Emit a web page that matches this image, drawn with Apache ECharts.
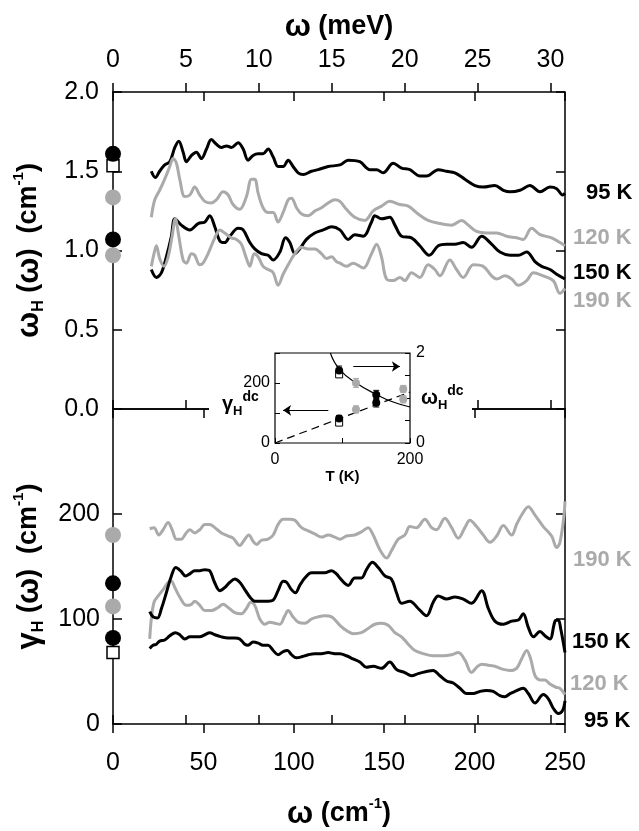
<!DOCTYPE html>
<html>
<head>
<meta charset="utf-8">
<script src="https://cdn.jsdelivr.net/npm/echarts@6/dist/echarts.min.js"></script>
<style>
  html, body { margin: 0; padding: 0; background: #fff; }
  #chart { width: 639px; height: 831px; }
</style>
</head>
<body>
<div id="chart"></div>
<script>
// omega_H(omega) in cm^-1, pairs of [omega (cm^-1), value]
var omega95 = [[21.2,1.50],[23.4,1.46],[25.8,1.50],[28.6,1.54],[31.4,1.56],[34.2,1.65],[36.4,1.69],[38.8,1.62],[40.6,1.56],[43.4,1.60],[46.1,1.62],[48.9,1.58],[51.7,1.64],[54.4,1.70],[57.2,1.67],[60.0,1.65],[62.8,1.66],[65.5,1.65],[69.2,1.68],[72.0,1.64],[74.7,1.57],[77.5,1.60],[80.3,1.61],[83.0,1.61],[85.8,1.64],[88.6,1.59],[91.3,1.53],[94.1,1.53],[96.9,1.57],[99.6,1.53],[102.4,1.49],[105.2,1.48],[109.8,1.50],[113.5,1.51],[119.0,1.53],[125.5,1.54],[130.1,1.57],[136.5,1.56],[142.1,1.51],[145.8,1.51],[149.4,1.49],[155.0,1.55],[159.6,1.52],[164.2,1.51],[169.7,1.47],[173.4,1.47],[179.9,1.51],[184.5,1.50],[189.1,1.49],[194.6,1.45],[200.2,1.41],[204.8,1.40],[211.2,1.41],[215.9,1.38],[219.6,1.37],[225.1,1.38],[230.6,1.41],[236.2,1.37],[241.7,1.40],[245.4,1.39],[248.7,1.35],[250,1.36]];
var omega120 = [[21.2,1.21],[23.1,1.32],[25.8,1.38],[28.6,1.45],[31.4,1.53],[33.2,1.58],[35.1,1.55],[36.9,1.45],[39.7,1.34],[42.5,1.35],[45.2,1.40],[48.0,1.35],[50.8,1.31],[54.4,1.30],[57.2,1.32],[60.9,1.37],[63.7,1.35],[66.4,1.29],[70.1,1.26],[73.8,1.34],[76.6,1.45],[78.4,1.45],[80.3,1.36],[83.0,1.27],[85.8,1.24],[88.6,1.24],[91.3,1.18],[94.1,1.24],[96.9,1.32],[98.7,1.33],[101.5,1.27],[104.3,1.23],[108.0,1.22],[111.7,1.25],[115.3,1.27],[119.0,1.30],[122.7,1.32],[125.5,1.31],[129.1,1.26],[133.7,1.21],[139.3,1.19],[143.9,1.25],[148.5,1.28],[153.1,1.31],[158.7,1.29],[163.3,1.28],[168.8,1.23],[174.3,1.19],[180.8,1.17],[187.3,1.16],[192.8,1.19],[196.5,1.16],[201.1,1.12],[206.6,1.11],[212.2,1.11],[217.7,1.09],[223.2,1.08],[226.9,1.07],[231.5,1.14],[236.2,1.10],[242.6,1.08],[247.2,1.05],[250,1.03]];
var omega150 = [[21.2,0.88],[24.0,0.83],[26.8,0.86],[29.5,0.96],[32.3,1.09],[34.2,1.20],[37.8,1.16],[42.5,1.13],[47.1,1.17],[50.8,1.18],[53.5,1.22],[56.3,1.15],[59.1,1.06],[61.8,1.05],[64.6,1.09],[69.2,1.14],[72.0,1.13],[75.7,1.05],[78.4,1.01],[82.1,0.98],[85.8,0.97],[88.6,0.94],[92.3,0.99],[95.4,1.08],[97.8,1.05],[100.6,0.98],[103.3,1.01],[107.0,1.07],[111.6,1.11],[116.3,1.13],[120.9,1.15],[125.5,1.13],[130.1,1.07],[133.7,1.10],[138.4,1.09],[143.0,1.18],[144.8,1.22],[148.5,1.20],[153.1,1.21],[155.9,1.16],[159.6,1.09],[165.1,1.08],[169.7,1.03],[174.9,0.97],[179.9,1.03],[184.5,1.04],[189.1,1.04],[193.7,1.05],[198.3,1.02],[203.9,1.09],[209.4,1.04],[214.0,0.99],[219.6,0.97],[224.2,0.97],[228.8,0.99],[233.4,0.93],[237.1,0.90],[241.7,0.88],[245.4,0.85],[250,0.82]];
var omega190 = [[21.2,0.90],[22.7,0.98],[24.0,1.03],[25.8,0.95],[28.2,0.90],[30.5,0.96],[32.7,1.09],[34.5,1.20],[36.4,1.09],[38.8,0.94],[40.6,0.92],[43.4,0.98],[45.2,0.97],[48.0,0.91],[49.8,0.92],[52.6,0.98],[56.3,1.08],[59.1,1.13],[61.8,1.11],[65.5,1.08],[68.3,1.07],[71.0,1.04],[73.8,0.95],[75.7,0.90],[78.1,0.98],[80.3,0.96],[83.0,0.90],[85.8,0.88],[88.6,0.86],[91.3,0.78],[94.1,0.85],[96.9,0.91],[100.6,0.98],[104.3,1.02],[108.0,1.01],[111.7,1.01],[115.3,0.98],[118.1,0.95],[120.9,0.96],[123.6,0.93],[125.5,0.92],[129.1,0.90],[132.8,0.92],[138.4,0.89],[143.0,0.98],[145.8,1.04],[148.5,0.96],[151.3,0.82],[155.0,0.81],[158.7,0.83],[161.4,0.81],[165.1,0.86],[169.7,0.83],[174.3,0.91],[178.0,0.88],[180.8,0.84],[186.3,0.94],[190.0,0.88],[193.7,0.83],[199.3,0.91],[204.8,0.90],[209.4,0.84],[212.2,0.82],[216.8,0.84],[220.5,0.82],[224.2,0.78],[228.8,0.81],[232.5,0.86],[238.0,0.84],[243.5,0.81],[247.2,0.73],[250,0.76]];

// gamma_H(omega) in cm^-1
var gamma95 = [[20.3,72],[22.2,75],[24.0,76],[25.8,79],[28.6,80],[31.4,84],[34.5,87],[36.9,85],[39.7,81],[42.5,83],[45.2,83],[48.0,83],[50.8,85],[53.5,87],[56.3,85],[60.0,83],[63.7,82],[67.4,82],[70.1,81],[72.9,76],[74.7,75],[77.5,78],[80.3,77],[83.0,75],[85.8,75],[88.6,70],[91.3,66],[94.1,69],[96.5,70],[98.7,66],[101.5,63],[104.3,64],[108.0,66],[111.6,67],[115.3,67],[119.0,68],[122.7,67],[125.5,67],[129.1,65],[132.8,62],[136.5,59],[140.2,54],[143.9,55],[148.5,53],[153.1,59],[156.8,52],[161.4,49],[165.1,46],[168.8,48],[173.4,50],[177.1,51],[180.8,46],[184.5,41],[188.2,39],[191.9,34],[195.6,29],[199.3,29],[202.9,31],[206.6,32],[210.3,31],[214.0,27],[216.8,26],[219.6,29],[222.3,31],[226.9,34],[229.7,29],[233.4,20],[238.0,28],[240.8,24],[243.5,15],[246.3,10],[248.7,13],[250,22]];
var gamma120 = [[20.3,81],[21.2,100],[22.7,116],[25.0,122],[27.7,128],[30.5,135],[32.3,136],[34.2,130],[36.9,121],[40.6,113],[43.4,114],[45.2,117],[48.0,113],[50.8,108],[54.4,108],[58.1,111],[60.9,114],[63.7,111],[67.4,106],[71.0,105],[73.8,110],[76.2,116],[78.4,113],[81.2,100],[84.0,95],[86.7,97],[89.5,96],[92.3,95],[95.0,103],[96.9,108],[99.6,102],[102.4,97],[106.1,96],[109.8,100],[113.5,102],[117.2,103],[120.9,102],[125.5,94],[129.1,89],[132.8,86],[137.4,87],[141.1,91],[144.8,95],[148.5,96],[152.2,94],[155.9,87],[159.6,83],[163.3,76],[167.0,70],[171.6,67],[177.1,65],[182.6,65],[187.3,66],[191.0,68],[194.6,61],[198.3,49],[201.1,54],[203.9,57],[207.6,56],[211.2,55],[215.9,52],[219.6,51],[223.2,53],[226.0,62],[228.8,70],[231.0,62],[233.4,46],[236.2,42],[238.9,42],[241.7,38],[245.0,35],[247.2,34],[250,28]];
var gamma150 = [[20.3,107],[22.2,102],[24.6,101],[26.8,110],[29.5,125],[32.3,141],[34.7,149],[37.3,146],[40.1,141],[42.5,143],[45.2,146],[48.0,146],[50.8,147],[53.5,146],[55.9,136],[59.1,127],[61.8,130],[64.6,135],[67.4,138],[70.1,135],[72.9,128],[75.7,121],[78.4,117],[82.1,117],[85.8,117],[88.6,118],[91.3,127],[94.1,136],[96.0,135],[98.7,128],[100.9,125],[103.3,132],[106.1,139],[109.8,144],[113.5,144],[117.2,144],[120.9,146],[123.6,143],[125.5,139],[128.2,134],[130.1,132],[133.7,139],[137.4,139],[140.2,147],[143.5,154],[146.7,149],[150.4,141],[154.0,138],[156.8,125],[159.6,115],[164.2,117],[168.8,110],[173.4,103],[177.1,116],[179.9,122],[184.5,119],[189.1,121],[193.7,119],[198.3,115],[203.9,127],[207.6,110],[211.2,98],[215.9,95],[220.5,98],[224.2,99],[226.9,105],[229.7,92],[232.5,83],[236.2,88],[238.9,84],[241.7,81],[244.5,98],[246.3,99],[247.6,91],[250,68]];
var gamma190 = [[20.3,186],[22.7,187],[25.3,180],[27.7,185],[30.5,192],[32.7,185],[35.1,176],[37.8,176],[40.1,181],[42.5,185],[45.2,182],[48.0,185],[50.8,190],[53.5,190],[56.3,187],[60.0,182],[63.7,179],[66.4,177],[70.1,170],[72.9,176],[75.1,180],[77.5,174],[79.4,171],[82.1,175],[85.8,176],[88.6,180],[91.3,190],[94.1,195],[97.8,195],[100.6,194],[104.3,187],[108.0,184],[111.6,181],[115.3,178],[119.0,180],[122.7,178],[125.5,176],[129.1,179],[133.7,180],[137.4,183],[141.1,187],[143.9,180],[147.6,166],[151.3,158],[154.0,165],[157.7,176],[161.4,180],[164.2,188],[167.9,187],[172.5,195],[176.2,187],[178.9,185],[183.6,196],[187.3,187],[191.0,177],[194.6,187],[197.4,194],[201.1,188],[204.8,180],[208.5,173],[212.2,179],[215.9,189],[220.5,180],[223.2,190],[226.0,199],[229.7,207],[233.4,199],[238.0,188],[242.6,179],[245.4,168],[247.2,173],[249.4,198],[250,212]];

// dc values (omega = 0) per temperature
var temps = [95, 120, 150, 190];
var tempLabels = ['95 K', '120 K', '150 K', '190 K'];
var omegaDc = [1.61, 1.335, 1.07, 0.97];
var gammaDc = [82, 112, 134, 180];
var omegaDcErr = [0.1, 0.1, 0.1, 0.08];
var gammaDcErr = [10, 12, 14, 12];
var omegaDcAlt95 = 1.535;   // open square
var gammaDcAlt95 = 68;

// inset fit curves, [T (K), value]
var omegaFit = [[82,2.0],[96,1.63],[121,1.33],[150,1.08],[175,0.91],[200,0.80]];
var gammaFit = [[0,0],[200,170]];

var FONT = '"Liberation Sans", Arial, Helvetica, sans-serif';
var BLACK = '#000000', GRAY = '#aaaaaa';
var tempColors = [BLACK, GRAY, BLACK, GRAY];
var CM_PER_MEV = 8.0655;
var meVMax = 250 / CM_PER_MEV;
var meVTicks = [0, 5, 10, 15, 20, 25, 30];

var chart = echarts.init(document.getElementById('chart'));

var tick = function (inside) {
  return { show: true, inside: inside, length: 9, lineStyle: { color: BLACK, width: 1.5 } };
};
var insetTick = { show: true, inside: true, length: 5, lineStyle: { color: BLACK, width: 1 } };
var noLine = { show: false, onZero: false };
var tickLabel = { fontFamily: FONT, fontSize: 25, color: BLACK };
var insetLabel = { fontFamily: FONT, fontSize: 16, color: BLACK };
var titleRich = {
  w: { fontFamily: FONT, fontSize: 31, fontWeight: 'bold', color: BLACK, lineHeight: 36 },
  b: { fontFamily: FONT, fontSize: 27, fontWeight: 'bold', color: BLACK, lineHeight: 36 },
  sub: { fontFamily: FONT, fontSize: 16, fontWeight: 'bold', color: BLACK, verticalAlign: 'bottom', lineHeight: 36 },
  sup: { fontFamily: FONT, fontSize: 15, fontWeight: 'bold', color: BLACK, verticalAlign: 'top', lineHeight: 36 }
};

var xAxes = [
  // 0: top panel, cm^-1 ticks on the top edge
  { gridIndex: 0, type: 'value', position: 'top', min: 0, max: 250, interval: 50,
    axisLine: noLine, axisTick: tick(true), axisLabel: { show: false }, splitLine: { show: false } },
  // 1: top panel, meV scale
  { gridIndex: 0, type: 'value', position: 'top', min: 0, max: meVMax,
    axisLine: noLine, axisTick: Object.assign(tick(false), { customValues: meVTicks }),
    axisLabel: Object.assign({ margin: 19, customValues: meVTicks }, tickLabel),
    splitLine: { show: false },
    name: '{w|ω}{b| (meV)}', nameLocation: 'middle', nameGap: 47, nameTextStyle: { rich: titleRich } },
  // 2: top panel, meV ticks on the bottom edge
  { gridIndex: 0, type: 'value', position: 'bottom', min: 0, max: meVMax,
    axisLine: noLine, axisTick: Object.assign(tick(true), { customValues: meVTicks }),
    axisLabel: { show: false }, splitLine: { show: false } },
  // 3: bottom panel, cm^-1 scale
  { gridIndex: 1, type: 'value', position: 'bottom', min: 0, max: 250, interval: 50,
    axisLine: noLine, axisTick: tick(false), axisLabel: Object.assign({ margin: 27 }, tickLabel),
    splitLine: { show: false },
    name: '{w|ω}{b| (cm}{sup|-1}{b|)}', nameLocation: 'middle', nameGap: 72, nameTextStyle: { rich: titleRich } },
  // 4: bottom panel, cm^-1 ticks on the top edge
  { gridIndex: 1, type: 'value', position: 'top', min: 0, max: 250, interval: 50,
    axisLine: noLine, axisTick: tick(true), axisLabel: { show: false }, splitLine: { show: false } },
  // 5: bottom panel, meV ticks on the bottom edge
  { gridIndex: 1, type: 'value', position: 'bottom', min: 0, max: meVMax,
    axisLine: noLine, axisTick: Object.assign(tick(true), { customValues: meVTicks }),
    axisLabel: { show: false }, splitLine: { show: false } },
  // 6: inset, T (K)
  { gridIndex: 2, type: 'value', position: 'bottom', min: 0, max: 200, interval: 100, z: 60,
    axisLine: noLine, axisTick: insetTick,
    axisLabel: Object.assign({ margin: 9, customValues: [0, 200] }, insetLabel),
    splitLine: { show: false },
    name: 'T (K)', nameLocation: 'middle', nameGap: 21,
    nameTextStyle: { fontFamily: FONT, fontSize: 15, fontWeight: 'bold', color: BLACK } }
];

var yAxes = [
  // 0: omega_H, left
  { gridIndex: 0, type: 'value', position: 'left', min: 0, max: 2, interval: 0.5,
    axisLine: noLine, axisTick: tick(true),
    axisLabel: Object.assign({ margin: 14, formatter: function (v) { return v.toFixed(1); } }, tickLabel),
    splitLine: { show: false },
    name: '{w|ω}{sub|H}{b| (}{w|ω}{b|)  (cm}{sup|-1}{b|)}', nameLocation: 'middle', nameGap: 66, nameRotate: 90,
    nameTextStyle: { rich: titleRich } },
  // 1: omega_H, right
  { gridIndex: 0, type: 'value', position: 'right', min: 0, max: 2, interval: 0.5,
    axisLine: noLine, axisTick: tick(true), axisLabel: { show: false }, splitLine: { show: false } },
  // 2: gamma_H, left
  { gridIndex: 1, type: 'value', position: 'left', min: 0, max: 300, interval: 100,
    axisLine: noLine, axisTick: tick(true),
    axisLabel: Object.assign({ margin: 13, customValues: [0, 100, 200] }, tickLabel),
    splitLine: { show: false },
    name: '{w|γ}{sub|H}{b| (}{w|ω}{b|)  (cm}{sup|-1}{b|)}', nameLocation: 'middle', nameGap: 66, nameRotate: 90,
    nameTextStyle: { rich: titleRich } },
  // 3: gamma_H, right
  { gridIndex: 1, type: 'value', position: 'right', min: 0, max: 300, interval: 100,
    axisLine: noLine, axisTick: tick(true), axisLabel: { show: false }, splitLine: { show: false } },
  // 4: inset gamma, left
  { gridIndex: 2, type: 'value', position: 'left', min: 0, max: 300, interval: 100, z: 60,
    axisLine: noLine, axisTick: insetTick,
    axisLabel: Object.assign({ margin: 5, customValues: [0, 200] }, insetLabel),
    splitLine: { show: false } },
  // 5: inset omega, right
  { gridIndex: 2, type: 'value', position: 'right', min: 0, max: 2, interval: 0.5, z: 60,
    axisLine: noLine, axisTick: insetTick,
    axisLabel: Object.assign({ margin: 6, customValues: [0, 2] }, insetLabel),
    splitLine: { show: false } }
];

var series = [];
function curve(data, color, xi, yi) {
  series.push({ type: 'line', data: data, xAxisIndex: xi, yAxisIndex: yi, symbol: 'none',
    smooth: 0.35, lineStyle: { color: color, width: 3 }, z: 3, animation: false, silent: true });
}
curve(omega95, BLACK, 0, 0);
curve(omega120, GRAY, 0, 0);
curve(omega150, BLACK, 0, 0);
curve(omega190, GRAY, 0, 0);
curve(gamma95, BLACK, 3, 2);
curve(gamma120, GRAY, 3, 2);
curve(gamma150, BLACK, 3, 2);
curve(gamma190, GRAY, 3, 2);

// dc points at omega = 0 and in the inset
function dcPoints(values, xi, yi, size, z, useTemp) {
  var pts = values.map(function (v, i) {
    return { value: [useTemp ? temps[i] : 0, v], itemStyle: { color: tempColors[i], opacity: 1 } };
  });
  series.push({ type: 'scatter', data: pts, xAxisIndex: xi, yAxisIndex: yi, symbol: 'circle',
    symbolSize: size, clip: false, z: z, animation: false, silent: true });
}
function squarePoint(v, xi, yi, size, z, useTemp) {
  series.push({ type: 'scatter', data: [[useTemp ? temps[0] : 0, v]], xAxisIndex: xi, yAxisIndex: yi,
    symbol: 'rect', symbolSize: size, clip: false, z: z, animation: false, silent: true,
    itemStyle: { color: '#ffffff', borderColor: BLACK, borderWidth: useTemp ? 1 : 1.5, opacity: 1 } });
}
function errorBars(values, errs, yi) {
  var rows = values.map(function (v, i) { return [temps[i], v - errs[i], v + errs[i]]; });
  series.push({ type: 'custom', data: rows, xAxisIndex: 6, yAxisIndex: yi, z: 62, silent: true, animation: false,
    renderItem: function (params, api) {
      var lo = api.coord([api.value(0), api.value(1)]);
      var hi = api.coord([api.value(0), api.value(2)]);
      var st = { stroke: tempColors[params.dataIndex], lineWidth: 1 };
      return { type: 'group', children: [
        { type: 'line', shape: { x1: lo[0], y1: lo[1], x2: hi[0], y2: hi[1] }, style: st },
        { type: 'line', shape: { x1: lo[0] - 3, y1: lo[1], x2: lo[0] + 3, y2: lo[1] }, style: st },
        { type: 'line', shape: { x1: hi[0] - 3, y1: hi[1], x2: hi[0] + 3, y2: hi[1] }, style: st }
      ] };
    } });
}
squarePoint(omegaDcAlt95, 0, 0, 12, 4, false);
dcPoints(omegaDc, 0, 0, 16, 5, false);
squarePoint(gammaDcAlt95, 3, 2, 12, 4, false);
dcPoints(gammaDc, 3, 2, 16, 5, false);

// inset fits with arrows pointing to the axis each set belongs to
var arrowStyle = { silent: true, animation: false, z: 66, symbol: ['none', 'arrow'], symbolSize: 8,
  lineStyle: { color: BLACK, width: 1, type: 'solid' }, label: { show: false } };
series.push({ type: 'line', data: omegaFit, xAxisIndex: 6, yAxisIndex: 5, symbol: 'none', smooth: true,
  lineStyle: { color: BLACK, width: 1.2 }, z: 61, animation: false, silent: true,
  markLine: Object.assign({ data: [[{ coord: [116, 1.70] }, { coord: [185, 1.70] }]] }, arrowStyle) });
series.push({ type: 'line', data: gammaFit, xAxisIndex: 6, yAxisIndex: 4, symbol: 'none',
  lineStyle: { color: BLACK, width: 1.2, type: [8, 5] }, z: 61, animation: false, silent: true,
  markLine: Object.assign({ data: [[{ coord: [79, 109] }, { coord: [12, 109] }]] }, arrowStyle) });
errorBars(omegaDc, omegaDcErr, 5);
errorBars(gammaDc, gammaDcErr, 4);
squarePoint(omegaDcAlt95 - 0.01, 6, 5, 7, 62, true);
squarePoint(gammaDcAlt95, 6, 4, 7, 62, true);
dcPoints(omegaDc, 6, 5, 8, 63, true);
dcPoints(gammaDc, 6, 4, 8, 63, true);

// temperature labels at the right edge
var labelPos = {
  top: [[586, 193], [573, 238], [573, 273], [573, 301]],
  bottom: [[584, 721], [570, 684], [572, 642], [573, 560]]
};
var graphics = [
  // break the shared panel edge behind the inset
  { type: 'rect', shape: { x: 209, y: 397, width: 263, height: 24 }, style: { fill: '#ffffff' }, z: 50, silent: true }
];
['top', 'bottom'].forEach(function (k) {
  labelPos[k].forEach(function (p, i) {
    graphics.push({ type: 'text', x: p[0], y: p[1], z: 70, silent: true,
      style: { text: tempLabels[i], fill: tempColors[i], font: 'bold 22px ' + FONT,
        align: 'left', verticalAlign: 'middle' } });
  });
});
var dcRich = {
  g: { fontFamily: FONT, fontSize: 20, fontWeight: 'bold', fill: BLACK, lineHeight: 28 },
  s: { fontFamily: FONT, fontSize: 13, fontWeight: 'bold', fill: BLACK, verticalAlign: 'bottom', lineHeight: 28 },
  p: { fontFamily: FONT, fontSize: 14, fontWeight: 'bold', fill: BLACK, verticalAlign: 'top', lineHeight: 28 }
};
graphics.push({ type: 'text', x: 222, y: 404, z: 70, silent: true,
  style: { text: '{g|γ}{s|H}{p|dc}', rich: dcRich, align: 'left', verticalAlign: 'middle' } });
graphics.push({ type: 'text', x: 421, y: 398, z: 70, silent: true,
  style: { text: '{g|ω}{s|H}{p|dc}', rich: dcRich, align: 'left', verticalAlign: 'middle' } });

chart.setOption({
  backgroundColor: '#ffffff',
  animation: false,
  grid: [
    { left: 113, top: 92, width: 452, height: 317, show: true, borderColor: BLACK, borderWidth: 1.5, backgroundColor: 'transparent' },
    { left: 113, top: 409, width: 452, height: 315, show: true, borderColor: BLACK, borderWidth: 1.5, backgroundColor: 'transparent' },
    { left: 275, top: 353, width: 135, height: 90, show: true, borderColor: BLACK, borderWidth: 1.2, backgroundColor: 'transparent', z: 60 }
  ],
  xAxis: xAxes,
  yAxis: yAxes,
  series: series,
  graphic: graphics
});
</script>
</body>
</html>
